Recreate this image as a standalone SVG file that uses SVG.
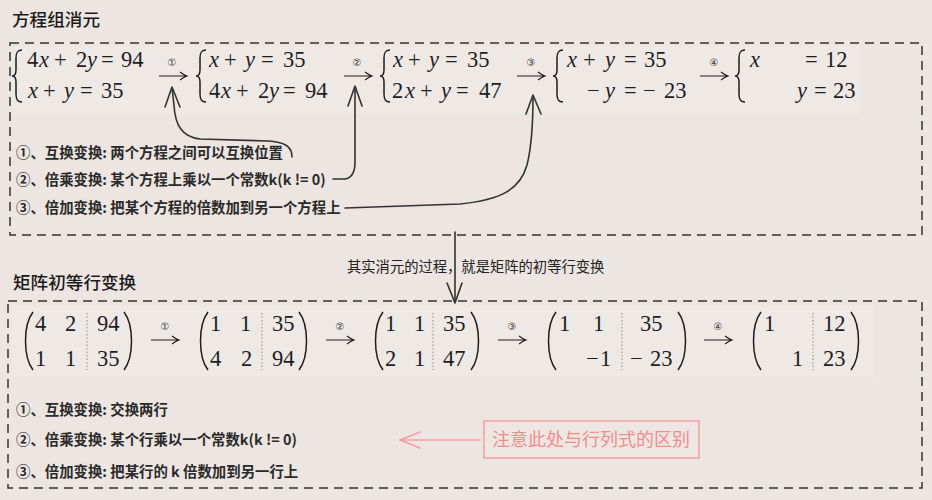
<svg xmlns="http://www.w3.org/2000/svg" width="932" height="500" viewBox="0 0 932 500">
<defs>
<style>
.bg{fill:#ede5e1}
.strip{fill:#efe9e6}
.box{fill:none;stroke:#333;stroke-width:1.5;stroke-dasharray:9 6}
.title{font-family:"Noto Sans CJK SC","Noto Sans",sans-serif;font-size:17.6px;font-weight:500;fill:#1a1a1a}
.list{font-family:"Noto Sans CJK SC","Noto Sans",sans-serif;font-size:14.4px;font-weight:700;fill:#2a2a2a}
.mid{font-family:"Noto Sans CJK SC","Noto Sans",sans-serif;font-size:14.3px;fill:#222}
.m{font-family:"Liberation Serif","Times New Roman",serif;font-size:22.5px;fill:#1e1e1e}
.i{font-style:italic}
.c{font-family:"Liberation Serif","DejaVu Sans",serif;font-size:10px;fill:#333;text-anchor:middle}
.br{fill:none;stroke:#1e1e1e;stroke-width:1.5}
.ar{fill:none;stroke:#1e1e1e;stroke-width:1.1}
.dot{stroke:#8a8a8a;stroke-width:1;stroke-dasharray:1.5 2}
.conn{fill:none;stroke:#333;stroke-width:1.6;stroke-linecap:round;stroke-linejoin:round}
.pink{fill:none;stroke:#f2a0a0;stroke-width:1.6;stroke-linecap:round;stroke-linejoin:round}
.note{font-family:"Noto Sans CJK SC","Noto Sans",sans-serif;font-size:18px;fill:#f08e8e}
</style>
<path id="brace" d="M10,0 C5,0 4,3 4,8 L4,20 C4,24 2,26 0,26 C2,26 4,28 4,32 L4,44 C4,49 5,52 10,52"/>
<path id="lp" d="M11,0 C1,13 1,45 11,58"/>
<path id="rp" d="M0,0 C10,13 10,45 0,58"/>
<path id="arr" d="M0,0 L28,0 M21,-4 Q25,-1 28,0 Q25,1 21,4"/>
</defs>
<rect class="bg" x="0" y="0" width="932" height="500"/>
<rect class="strip" x="12" y="46" width="850" height="68"/>
<rect class="strip" x="12" y="305" width="862" height="72"/>

<g id="title-top"><text class="title" x="12" y="26">方程组消元</text></g>
<g id="box-top"><rect class="box" x="10" y="43" width="912" height="192"/></g>

<g id="sys1">
<use href="#brace" class="br" x="12" y="50"/>
<text class="m" y="67"><tspan x="27">4</tspan><tspan class="i" x="39">x</tspan><tspan x="54">+</tspan><tspan x="76">2</tspan><tspan class="i" x="87">y</tspan><tspan x="101">=</tspan><tspan x="121">94</tspan></text>
<text class="m" y="98"><tspan class="i" x="28">x</tspan><tspan x="43">+</tspan><tspan class="i" x="64">y</tspan><tspan x="80">=</tspan><tspan x="101">35</tspan></text>
</g>
<g id="op1"><use href="#arr" class="ar" x="159" y="76"/><text class="c" x="172" y="66">①</text></g>
<g id="sys2">
<use href="#brace" class="br" x="196" y="50"/>
<text class="m" y="67"><tspan class="i" x="209">x</tspan><tspan x="224">+</tspan><tspan class="i" x="245">y</tspan><tspan x="261">=</tspan><tspan x="283">35</tspan></text>
<text class="m" y="98"><tspan x="209">4</tspan><tspan class="i" x="221">x</tspan><tspan x="236">+</tspan><tspan x="258">2</tspan><tspan class="i" x="269">y</tspan><tspan x="283">=</tspan><tspan x="305">94</tspan></text>
</g>
<g id="op2"><use href="#arr" class="ar" x="344" y="76"/><text class="c" x="357" y="66">②</text></g>
<g id="sys3">
<use href="#brace" class="br" x="380" y="50"/>
<text class="m" y="67"><tspan class="i" x="393">x</tspan><tspan x="408">+</tspan><tspan class="i" x="429">y</tspan><tspan x="445">=</tspan><tspan x="467">35</tspan></text>
<text class="m" y="98"><tspan x="392">2</tspan><tspan class="i" x="405">x</tspan><tspan x="420">+</tspan><tspan class="i" x="441">y</tspan><tspan x="456">=</tspan><tspan x="479">47</tspan></text>
</g>
<g id="op3"><use href="#arr" class="ar" x="517" y="76"/><text class="c" x="531" y="66">③</text></g>
<g id="sys4">
<use href="#brace" class="br" x="553" y="50"/>
<text class="m" y="67"><tspan class="i" x="567">x</tspan><tspan x="583">+</tspan><tspan class="i" x="605">y</tspan><tspan x="624">=</tspan><tspan x="644">35</tspan></text>
<text class="m" y="98"><tspan x="587">−</tspan><tspan class="i" x="605">y</tspan><tspan x="624">=</tspan><tspan x="643">−</tspan><tspan x="664">23</tspan></text>
</g>
<g id="op4"><use href="#arr" class="ar" x="700" y="76"/><text class="c" x="714" y="66">④</text></g>
<g id="sys5">
<use href="#brace" class="br" x="735" y="50"/>
<text class="m" y="67"><tspan class="i" x="750">x</tspan><tspan x="805">=</tspan><tspan x="825">12</tspan></text>
<text class="m" y="98"><tspan class="i" x="797">y</tspan><tspan x="814">=</tspan><tspan x="833">23</tspan></text>
</g>

<g id="rules-top">
<text class="list" x="16" y="158">①、互换变换: 两个方程之间可以互换位置</text>
<text class="list" x="16" y="185">②、倍乘变换: 某个方程上乘以一个常数k(k != 0)</text>
<text class="list" x="16" y="213">③、倍加变换: 把某个方程的倍数加到另一个方程上</text>
</g>

<g id="connectors">
<path class="conn" d="M292,157 C292,146 284,142 268,141 L200,139 C182,137 175,125 174,105 L172,88"/>
<path class="conn" d="M165,107 L172,87 L180,107"/>
<path class="conn" d="M333,179 L345,179 C352,178 355,172 355,162 L355,88"/>
<path class="conn" d="M348,106 L355,86 L362,106"/>
<path class="conn" d="M345,208 L460,204 C500,200 520,190 527,165 C532,145 533,120 533,97"/>
<path class="conn" d="M526,114 L533,95 L541,114"/>
<path class="conn" d="M455,232 L455,302"/>
<path class="conn" d="M447,283 L455,303 L462,283"/>
<path class="pink" d="M480,440 L400,440 M420,432 L400,440 L420,448"/>
</g>

<g id="middle-label"><text class="mid" x="347" y="272">其实消元的过程，就是矩阵的初等行变换</text></g>

<g id="title-bottom"><text class="title" x="13" y="289">矩阵初等行变换</text></g>
<g id="box-bottom"><rect class="box" x="8" y="301" width="914" height="187"/></g>

<g id="mat1">
<use href="#lp" class="br" x="22" y="312"/><use href="#rp" class="br" x="124" y="312"/>
<line class="dot" x1="87" y1="313" x2="87" y2="370"/>
<text class="m" y="331"><tspan x="35">4</tspan><tspan x="65">2</tspan><tspan x="97">94</tspan></text>
<text class="m" y="366"><tspan x="35">1</tspan><tspan x="65">1</tspan><tspan x="97">35</tspan></text>
</g>
<g id="mop1"><use href="#arr" class="ar" x="151" y="340"/><text class="c" x="165" y="330">①</text></g>
<g id="mat2">
<use href="#lp" class="br" x="197" y="312"/><use href="#rp" class="br" x="299" y="312"/>
<line class="dot" x1="262" y1="313" x2="262" y2="370"/>
<text class="m" y="331"><tspan x="210">1</tspan><tspan x="240">1</tspan><tspan x="272">35</tspan></text>
<text class="m" y="366"><tspan x="210">4</tspan><tspan x="241">2</tspan><tspan x="272">94</tspan></text>
</g>
<g id="mop2"><use href="#arr" class="ar" x="326" y="340"/><text class="c" x="340" y="330">②</text></g>
<g id="mat3">
<use href="#lp" class="br" x="372" y="312"/><use href="#rp" class="br" x="471" y="312"/>
<line class="dot" x1="433" y1="313" x2="433" y2="370"/>
<text class="m" y="331"><tspan x="385">1</tspan><tspan x="414">1</tspan><tspan x="443">35</tspan></text>
<text class="m" y="366"><tspan x="385">2</tspan><tspan x="414">1</tspan><tspan x="443">47</tspan></text>
</g>
<g id="mop3"><use href="#arr" class="ar" x="498" y="340"/><text class="c" x="512" y="330">③</text></g>
<g id="mat4">
<use href="#lp" class="br" x="545" y="312"/><use href="#rp" class="br" x="678" y="312"/>
<line class="dot" x1="622" y1="313" x2="622" y2="370"/>
<text class="m" y="331"><tspan x="559">1</tspan><tspan x="593">1</tspan><tspan x="640">35</tspan></text>
<text class="m" y="366"><tspan x="586">−</tspan><tspan x="600">1</tspan><tspan x="630">−</tspan><tspan x="650">23</tspan></text>
</g>
<g id="mop4"><use href="#arr" class="ar" x="704" y="340"/><text class="c" x="718" y="330">④</text></g>
<g id="mat5">
<use href="#lp" class="br" x="750" y="312"/><use href="#rp" class="br" x="851" y="312"/>
<line class="dot" x1="813" y1="313" x2="813" y2="370"/>
<text class="m" y="331"><tspan x="764">1</tspan><tspan x="823">12</tspan></text>
<text class="m" y="366"><tspan x="792">1</tspan><tspan x="823">23</tspan></text>
</g>

<g id="rules-bottom">
<text class="list" x="16" y="415">①、互换变换: 交换两行</text>
<text class="list" x="16" y="445">②、倍乘变换: 某个行乘以一个常数k(k != 0)</text>
<text class="list" x="16" y="477">③、倍加变换: 把某行的 k 倍数加到另一行上</text>
</g>

<g id="note">
<rect x="484" y="421" width="215" height="37" fill="#eee6e3" stroke="#f2a0a0" stroke-width="1.5"/>
<text class="note" x="492" y="446">注意此处与行列式的区别</text>
</g>
</svg>
